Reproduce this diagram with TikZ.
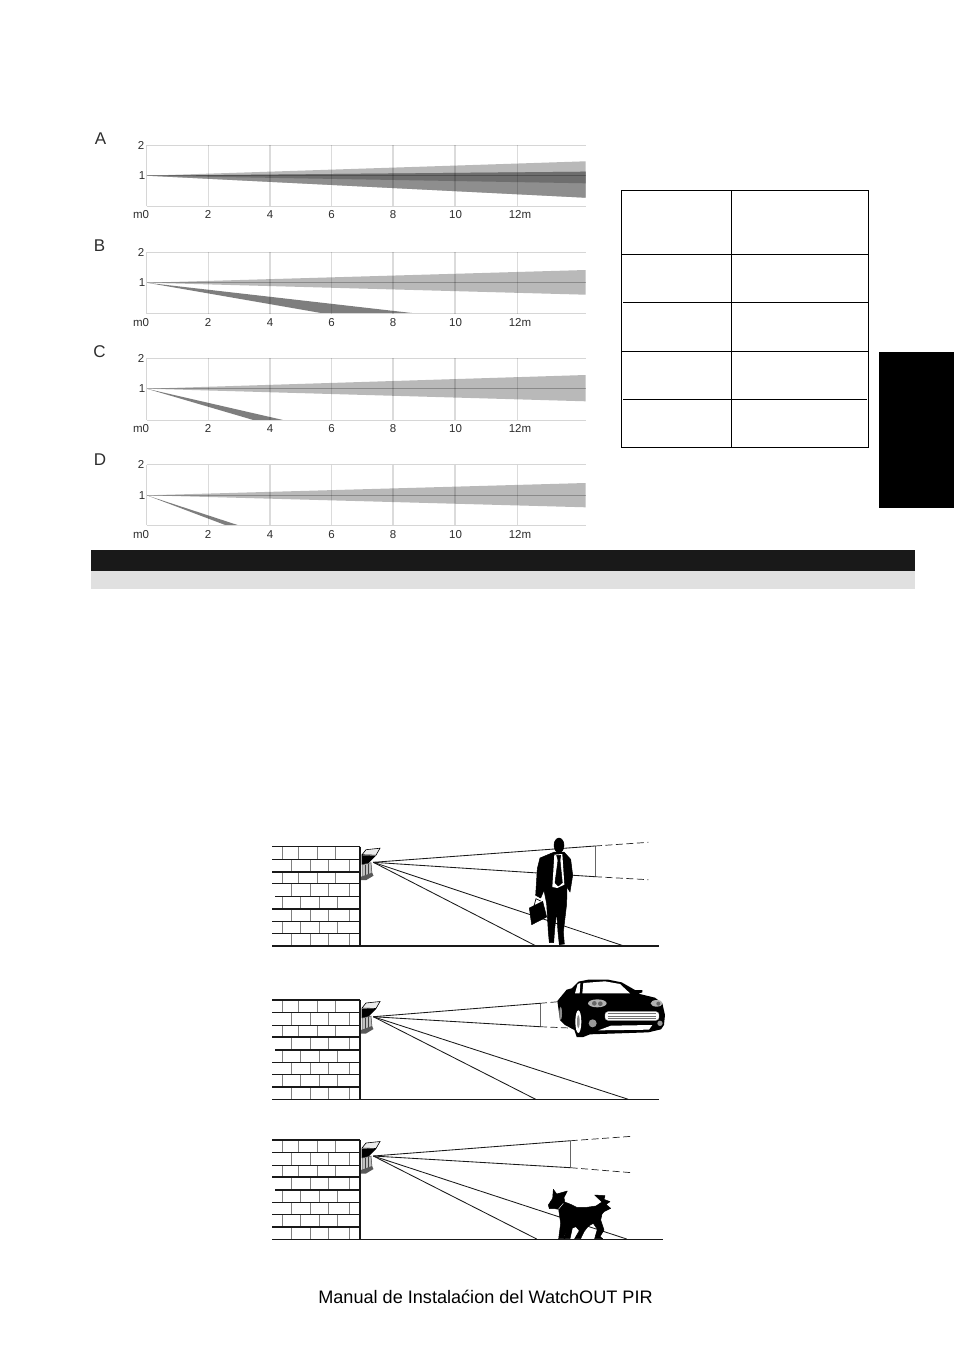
\documentclass[tikz,border=0pt]{standalone}
\usepackage{fontspec}
\setmainfont{Liberation Sans}
\definecolor{wlight}{HTML}{B9B9B9}
\definecolor{wmid}{HTML}{8E8E8E}
\definecolor{wdark}{HTML}{6E6E6E}
\definecolor{wlow}{HTML}{7E7E7E}
\definecolor{gridc}{HTML}{D6D6D6}
\definecolor{labc}{HTML}{2E2E2E}
\tikzset{
  gridline/.style={draw=gridc,line width=1pt},
  gridover/.style={draw=black,opacity=0.14,line width=1.1pt},
  axislabel/.style={font=\fontsize{11.5}{13}\selectfont,text=labc,inner sep=0pt,anchor=base,yshift=-4pt},
  chartletter/.style={font=\fontsize{17}{19}\selectfont,text=labc,inner sep=0pt},
  tableline/.style={draw=black,line width=0.9pt},
  brickline/.style={draw=black!90,line width=1.25pt},
  brickjoint/.style={draw=black!50,line width=0.6pt},
  rayline/.style={draw=black!90,line width=0.85pt},
  raydash/.style={draw=black!85,line width=0.7pt,dash pattern=on 7pt off 3.5pt},
  silhouette/.style={fill=black,draw=black,line width=0.5pt,line join=round},
}
% #1 y2, #2 y1, #3 y0, #4 label y, #5 wedge top, #6 wedge bottom, #7 low wedge upper x, #8 low wedge lower x, #9 prefix
\newcommand{\rangechart}[9]{%
  \fill[wlight] (146.7,#2) -- (585.7,#5) -- (585.7,#6) -- cycle;
  \ifdim #7pt>0pt \fill[wlow] (146.7,#2) -- (#7,#3) -- (#8,#3) -- cycle; \fi
  \draw[gridline] (146.7,#1) -- (585.7,#1);
  \draw[gridline] (146.7,#3) -- (585.7,#3);
  \draw[gridline] (146.7,#1) -- (146.7,#3);
  \foreach \gx in {208.3,270,331.7,393,455,517.7}{\draw[gridover] (\gx,#1) -- (\gx,#3);}
  \draw[draw=black,opacity=0.25,line width=0.8pt] (146.7,#2) -- (585.7,#2);
  \node[axislabel] (#9y2) at (141,#1) {2};
  \node[axislabel] (#9y1) at (142,#2) {1};
  \node[axislabel] (#9m0) at (141,#4) {m0};
  \node[axislabel] (#9x2) at (208,#4) {2};
  \node[axislabel] (#9x4) at (270,#4) {4};
  \node[axislabel] (#9x6) at (331.5,#4) {6};
  \node[axislabel] (#9x8) at (393,#4) {8};
  \node[axislabel] (#9x10) at (455.5,#4) {10};
  \node[axislabel] (#9x12) at (520,#4) {12m};
}
% wall, ground and sensor; origin y = top of wall
\newcommand{\scenebase}[2]{%
\begin{scope}[shift={(0,#1)}]
  \foreach \ya/\yb/\xlist in {
    0/12.6/{282.3,298.3,317.3,335.3},
    12.6/25.3/{291.7,310.3,328.7,349.3},
    25.3/37/{282.3,298.3,317.3,335.3},
    37/50/{291.7,310.3,328.7,349.3},
    50/62.3/{282.3,300.7,319.3,337.3},
    62.3/74.6/{291.7,310.3,328.7,349.3},
    74.6/87/{282.3,300.7,319.3,337.3},
    87/99.4/{291.7,310.3,328.7,349.3}}{
    \foreach \bx in \xlist {\draw[brickjoint] (\bx,\ya) -- (\bx,\yb);}
  }
  \foreach \ya in {0,12.6,25.3,37,62.3,74.6,87}{\draw[brickline] (272.3,\ya) -- (360,\ya);}
  \draw[brickline] (275,50) -- (360,50);
  \draw[brickline] (360,0) -- (360,99.4);
  \draw[brickline] (272.3,99.4) -- (#2,99.4);
  % sensor
  \filldraw[fill=black!8,draw=black,line width=0.6pt] (362,8) -- (366,3) -- (380,1.5) -- (376,8.5) -- cycle;
  \fill[black] (361.5,8.5) -- (376,9) -- (367,18) -- (361.5,18) -- cycle;
  \filldraw[fill=black!25,draw=black!75,line width=0.5pt] (362,18) -- (371,16) -- (372,27) -- (362,31) -- cycle;
  \draw[black!75,line width=0.5pt] (365,18) -- (365,30) (368,17) -- (368,29);
  \fill[black!65] (361,30) -- (372,26) -- (373.5,29) -- (366,33.5) -- (361,33.5) -- cycle;
\end{scope}}
\begin{document}
\begin{tikzpicture}[x=1pt,y=-1pt]
\useasboundingbox (0,0) rectangle (954,1354);
\fill[white] (0,0) rectangle (954,1354);

% --- charts ---
\node[chartletter] (letterA) at (100.5,138.5) {A};
\node[chartletter] (letterB) at (99.5,245.5) {B};
\node[chartletter] (letterC) at (99.5,352) {C};
\node[chartletter] (letterD) at (100,460) {D};

\rangechart{145.3}{175.7}{206}{214.3}{161.3}{197.7}{0}{0}{a}
\begin{scope}
\clip (146.7,175.7) -- (585.7,171.7) -- (585.7,197.7) -- cycle;
\fill[wmid] (146.7,175.7) -- (585.7,171.7) -- (585.7,197.7) -- cycle;
\fill[wdark] (146.7,175.7) -- (585.7,171.7) -- (585.7,183.3) -- cycle;
\foreach \gx in {208.3,270,331.7,393,455,517.7}{\draw[gridover] (\gx,145.3) -- (\gx,206);}
\draw[draw=black,opacity=0.25,line width=0.8pt] (146.7,175.7) -- (585.7,175.7);
\end{scope}

\rangechart{252.3}{282.7}{313.7}{322}{270}{294.7}{418}{325}{b}
\rangechart{358.3}{388.7}{420}{428.3}{375}{401.3}{283}{253.3}{c}
\rangechart{464.7}{495.3}{525.3}{534}{483}{507.3}{238.5}{226}{d}

% --- bars ---
\fill[fill=black!90] (91,550) rectangle (915,571);
\fill[fill=black!12] (91,571) rectangle (915,589);

% --- table ---
\draw[tableline] (621.3,190.3) rectangle (868.3,447.3);
\draw[tableline] (731.3,190.3) -- (731.3,447.3);
\draw[tableline] (621.3,254.3) -- (868.3,254.3);
\draw[tableline] (623,302.3) -- (868.3,302.3);
\draw[tableline] (621.3,351.3) -- (868.3,351.3);
\draw[tableline] (623,399.3) -- (866.5,399.3);

% --- side tab ---
\fill[black] (879,352) rectangle (954,508);

% --- scene 1: man ---
\scenebase{846.7}{659}
\coordinate (s1) at (373.3,862.3);
\coordinate (s1up) at (595,846);
\coordinate (s1lo) at (595,876.7);
\draw[rayline] (s1) -- (s1up);
\draw[rayline] (s1) -- (s1lo);
\draw[draw=black!60,line width=0.5pt] (s1up) -- (s1lo);
\draw[raydash] (s1up) -- (648.3,842.3);
\draw[raydash] (s1lo) -- (648.3,879.7);
\draw[rayline] (s1) -- (536.7,946.3);
\draw[rayline] (s1) -- (625,946.3);
\begin{scope}[shift={(520,832)},x=0.3333pt,y=-0.3333pt]
  \fill[silhouette] (117,40) ellipse [x radius=15,y radius=22];
  \fill[silhouette] (103,60) -- (132,60) -- (152,82) -- (158,130) -- (150,180) -- (141,165)
    -- (140,215) -- (130,300) -- (133,336) -- (118,338) -- (114,300) -- (110,240) -- (104,290)
    -- (101,332) -- (88,332) -- (85,300) -- (80,215) -- (72,175) -- (62,198) -- (47,190)
    -- (52,110) -- (60,78) -- cycle;
  \fill[white] (103,68) -- (127,66) -- (133,158) -- (112,168) -- (97,165) -- cycle;
  \fill[silhouette] (110,70) -- (122,70) -- (120,84) -- (127,152) -- (115,162) -- (105,152) -- (114,85) -- cycle;
  \fill[silhouette] (28,228) -- (68,208) -- (80,255) -- (35,278) -- cycle;
  \draw[black,line width=0.7pt] (42,222) -- (48,200) -- (62,207);
\end{scope}

% --- scene 2: car ---
\scenebase{1000}{659}
\coordinate (s2) at (373.3,1016.7);
\coordinate (s2up) at (540,1003.3);
\coordinate (s2lo) at (540,1026.7);
\draw[rayline] (s2) -- (s2up);
\draw[rayline] (s2) -- (s2lo);
\draw[draw=black!60,line width=0.5pt] (s2up) -- (s2lo);
\draw[raydash] (s2up) -- (558.3,1001.7);
\draw[raydash] (s2lo) -- (576.7,1028.3);
\draw[rayline] (s2) -- (535.7,1099.3);
\draw[rayline] (s2) -- (628.3,1099.3);
\begin{scope}[shift={(555,975)},x=0.3333pt,y=-0.3333pt]
  \fill[fill=black] (7,78) -- (35,44) -- (50,40) -- (70,20) -- (100,14) -- (160,14) -- (200,22)
    -- (240,45) -- (262,45) -- (262,52) -- (250,56) -- (300,68) -- (322,85) -- (330,120) -- (327,150)
    -- (318,163) -- (280,172) -- (105,178) -- (85,186) -- (65,186) -- (58,165) -- (30,150) -- (15,135) -- cycle;
  \fill[white] (82,55) -- (85,24) -- (150,19) -- (195,27) -- (225,55) -- cycle;
  \fill[white] (60,55) -- (68,27) -- (76,24) -- (74,55) -- cycle;
  \fill[black!30] (127,85) ellipse [x radius=28,y radius=12];
  \fill[black!60] (118,85) circle [radius=7];
  \fill[black!60] (136,86) circle [radius=7];
  \fill[black!30] (305,85) ellipse [x radius=18,y radius=10];
  \fill[black!60] (310,86) circle [radius=6];
  \filldraw[fill=white,draw=black!30,rounded corners=3pt] (150,110) rectangle (312,136);
  \foreach \gy in {116,123,130}{\draw[black!55,line width=0.6pt] (158,\gy) -- (304,\gy);}
  \fill[black!40] (113,145) circle [radius=12];
  \fill[black!40] (315,145) circle [radius=8];
  \fill[white] (130,166) -- (168,152) -- (292,150) -- (282,164) -- cycle;
  \fill[white] (70,140) ellipse [x radius=9,y radius=34];
  \fill[black!45] (70,140) ellipse [x radius=4,y radius=20];
  \fill[black!45] (17,115) ellipse [x radius=4,y radius=20];
\end{scope}

% --- scene 3: dog ---
\scenebase{1140}{663.3}
\coordinate (s3) at (373.3,1156);
\coordinate (s3up) at (570.7,1140.7);
\coordinate (s3lo) at (570.7,1167.7);
\draw[rayline] (s3) -- (s3up);
\draw[rayline] (s3) -- (s3lo);
\draw[draw=black!60,line width=0.5pt] (s3up) -- (s3lo);
\draw[raydash] (s3up) -- (631.7,1136.3);
\draw[raydash] (s3lo) -- (631.7,1172.7);
\draw[rayline] (s3) -- (536.7,1239);
\draw[rayline] (s3) -- (626.7,1239);
\begin{scope}[shift={(540,1180)},x=0.3333pt,y=-0.3333pt]
  \fill[silhouette] (40,28) -- (50,42) -- (82,33) -- (72,52) -- (74,66) -- (92,73) -- (110,82) -- (140,82)
    -- (168,78) -- (186,66) -- (164,45) -- (195,47) -- (192,58) -- (210,65) -- (198,73) -- (212,85)
    -- (192,95) -- (186,102) -- (182,120) -- (192,150) -- (180,170) -- (188,176) -- (164,176) -- (172,148)
    -- (160,130) -- (145,138) -- (132,155) -- (122,176) -- (104,176) -- (118,152) -- (108,140) -- (97,144)
    -- (90,176) -- (74,176) -- (78,145) -- (72,176) -- (56,176) -- (62,130) -- (56,88) -- (45,86)
    -- (28,86) -- (25,75) -- (38,55) -- cycle;
  \draw[white,line width=0.4pt] (55,88) -- (70,70);
\end{scope}

% --- footer ---
\node[inner sep=0pt,font=\fontsize{18.1}{20}\selectfont] (footer) at (485.5,1297) {Manual de Instalaćion del WatchOUT PIR};
\end{tikzpicture}
\end{document}
